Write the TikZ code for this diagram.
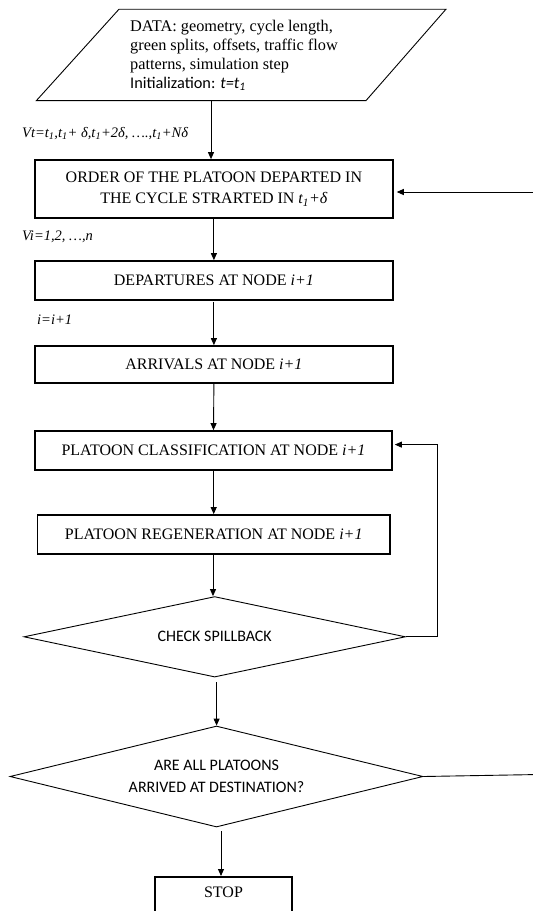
\documentclass[tikz,border=0pt]{standalone}
\usepackage{fontspec}
\setmainfont{Liberation Serif}
\newfontfamily\calib{Carlito}
\usetikzlibrary{arrows.meta,shapes.geometric}

\tikzset{
  procbox/.style={draw, line width=1.7pt, inner sep=0pt, align=center,
    font=\fontsize{16}{21}\selectfont},
  decision/.style={draw, diamond, line width=0.9pt, inner sep=0pt, aspect=4,
    align=center, font=\calib\fontsize{16}{22}\selectfont},
  flow/.style={line width=0.9pt, -{Triangle[length=7pt,width=6pt]}},
  plain/.style={line width=0.9pt},
  looplabel/.style={anchor=west, inner sep=0pt, font=\itshape\fontsize{14.5}{17}\selectfont}
}

\begin{document}
\begin{tikzpicture}[x=1pt, y=-1pt]
\useasboundingbox (0,0) rectangle (533,911);
\clip (0,0) rectangle (533,911);

% input data (parallelogram)
\coordinate (dtl) at (119,9.2);
\coordinate (dtr) at (446,9.2);
\coordinate (dbr) at (366,100.6);
\coordinate (dbl) at (36.4,100.6);
\draw[line width=0.9pt] (dtl) -- (dtr) -- (dbr) -- (dbl) -- cycle;
\node (data) [anchor=north west, inner sep=0pt, align=left,
  font=\fontsize{16.3}{19}\selectfont] at (130,19.5)
  {DATA: geometry, cycle length,\\
   green splits, offsets, traffic flow\\
   patterns, simulation step\\
   {\calib Initialization: \textit{t=t\textsubscript{1}}}};
\coordinate (dataout) at (211,100.6);

% process boxes
\node (order) [procbox, minimum width=358pt, minimum height=58pt] at (213.9,189)
  {ORDER OF THE PLATOON DEPARTED IN\\THE CYCLE STRARTED IN \textit{t\textsubscript{1}+δ}};
\node (dep) [procbox, minimum width=358pt, minimum height=39pt] at (213.9,280.5)
  {DEPARTURES AT NODE \textit{i+1}};
\node (arr) [procbox, minimum width=358pt, minimum height=37pt] at (213.9,364.5)
  {ARRIVALS AT NODE \textit{i+1}};
\node (cls) [procbox, minimum width=357pt, minimum height=39pt] at (213.5,450.5)
  {PLATOON CLASSIFICATION AT NODE \textit{i+1}};
\node (reg) [procbox, minimum width=352.6pt, minimum height=39pt] at (213.7,534.5)
  {PLATOON REGENERATION AT NODE \textit{i+1}};

% decisions
\node (check) [decision, minimum width=381.5pt, minimum height=80.5pt] at (214.7,636.8)
  {CHECK SPILLBACK};
\node (done) [decision, minimum width=413pt, minimum height=101pt] at (216.5,776.5)
  {ARE ALL PLATOONS\\ARRIVED AT DESTINATION?};

% end box, text near its top edge
\node (stop) [procbox, anchor=north, minimum width=137pt, text height=21pt,
  text depth=50pt] at (223.5,876) {STOP};

% loop labels
\node (lt) [looplabel] at (22,133.6)
  {Vt=t\textsubscript{1},t\textsubscript{1}+ δ,t\textsubscript{1}+2δ, ….,t\textsubscript{1}+Nδ};
\node (li) [looplabel] at (22,237) {Vi=1,2, …,n};
\node (lii) [looplabel] at (37,320) {i=i+1};

% main flow
\draw[flow] (dataout) -- (dataout |- order.north);
\draw[flow] (order.south) -- (dep.north);
\draw[flow] (dep.south) ++(0,1) -- (arr.north);
\draw[flow] (arr.south) -- (cls.north);
\draw[flow] (cls.south) -- (reg.south |- cls.south) -- (reg.north);
\coordinate (regout) at (213,554);
\draw[flow] (regout) -- (regout |- check.north);
\coordinate (chkout) at (216.6,682);
\draw[flow] (chkout) -- (chkout |- done.north);
\coordinate (doneout) at (221,831);
\draw[flow] (doneout) -- (doneout |- stop.north);

% spillback loop back to classification
\coordinate (spill) at (437.6,444.6);
\draw[flow] (check.east) -- (spill |- check.east) -- (spill) -- ([xshift=2pt]cls.east |- spill);

% return to the next cycle along the right edge
\coordinate (retin) at (533,192);
\coordinate (retout) at (533,774.6);
\draw[plain] (done.east) -- (retout);
\draw[flow] (retin) -- ([xshift=3pt]order.east |- retin);
\end{tikzpicture}
\end{document}
